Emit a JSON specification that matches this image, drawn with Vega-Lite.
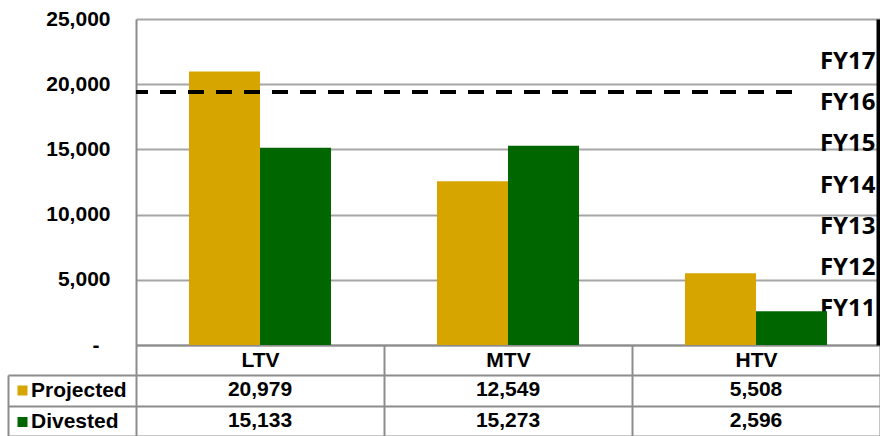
{
  "$schema": "https://vega.github.io/schema/vega-lite/v6.json",
  "padding": {"left": 7, "top": 8, "right": 0, "bottom": 0},
  "background": "white",
  "config": {"view": {"stroke": null}, "font": "Liberation Sans"},
  "datasets": {
    "table": [
      {"category": "LTV", "series": "Projected", "value": 20979},
      {"category": "LTV", "series": "Divested", "value": 15133},
      {"category": "MTV", "series": "Projected", "value": 12549},
      {"category": "MTV", "series": "Divested", "value": 15273},
      {"category": "HTV", "series": "Projected", "value": 5508},
      {"category": "HTV", "series": "Divested", "value": 2596}
    ]
  },
  "spacing": 30,
  "bounds": "flush",
  "vconcat": [
    {
      "width": 744,
      "height": 326,
      "layer": [
        {
          "data": {"name": "table"},
          "mark": {"type": "bar"},
          "encoding": {
            "x": {
              "field": "category", "type": "nominal", "sort": ["LTV", "MTV", "HTV"],
              "scale": {"paddingInner": 0, "paddingOuter": 0},
              "axis": {
                "title": null, "orient": "bottom", "tickBand": "extent", "tickSize": 30, "tickWidth": 2,
                "tickColor": "#8c8c8c", "domainColor": "#8c8c8c", "domainWidth": 2, "labelAngle": 0,
                "labelFontSize": 21, "labelFontWeight": "bold", "labelColor": "black",
                "labelPadding": -15, "labelBaseline": "middle", "grid": false
              }
            },
            "xOffset": {
              "field": "series", "type": "nominal", "sort": ["Projected", "Divested"],
              "scale": {"paddingOuter": 0.746, "paddingInner": 0}
            },
            "y": {
              "field": "value", "type": "quantitative",
              "scale": {"domain": [0, 25000], "nice": false},
              "axis": {
                "title": null, "values": [0, 5000, 10000, 15000, 20000, 25000],
                "labelExpr": "datum.value == 0 ? '-' : format(datum.value, ',')",
                "grid": true, "gridColor": "#a6a6a6", "gridWidth": 2,
                "ticks": false, "tickSize": 0, "domain": true, "domainColor": "#8c8c8c", "domainWidth": 2,
                "labelPadding": {"condition": {"test": "datum.value == 0", "value": 37}, "value": 26},
                "labelFontSize": 21, "labelFontWeight": "bold", "labelColor": "black"
              }
            },
            "color": {
              "field": "series", "type": "nominal",
              "scale": {"domain": ["Projected", "Divested"], "range": ["#D6A500", "#006600"]},
              "legend": {
                "title": null, "orient": "none", "legendX": -124, "legendY": 361, "direction": "vertical",
                "symbolType": "square", "symbolSize": 100, "symbolStrokeWidth": 0, "symbolOpacity": 1,
                "labelFontSize": 21, "labelFontWeight": "bold", "labelColor": "black",
                "labelOffset": -2, "rowPadding": 9.5, "padding": 0
              }
            }
          }
        },
        {
          "data": {"values": [{"target": 19400}]},
          "mark": {"type": "rule", "strokeDash": [16, 12], "strokeDashOffset": 4, "strokeWidth": 4, "color": "black"},
          "encoding": {
            "y": {"field": "target", "type": "quantitative", "scale": {"domain": [0, 25000], "nice": false}, "axis": null},
            "x": {"datum": 0, "type": "quantitative", "scale": {"domain": [0, 1]}, "axis": null},
            "x2": {"datum": 0.883}
          }
        },
        {
          "data": {"values": [{"fy": "FY17"}, {"fy": "FY16"}, {"fy": "FY15"}, {"fy": "FY14"}, {"fy": "FY13"}, {"fy": "FY12"}, {"fy": "FY11"}]},
          "mark": {"type": "tick", "opacity": 0},
          "encoding": {
            "y": {
              "field": "fy", "type": "ordinal", "sort": ["FY17", "FY16", "FY15", "FY14", "FY13", "FY12", "FY11"],
              "scale": {"type": "point", "padding": 0.96},
              "axis": {
                "orient": "right", "title": null, "ticks": false, "tickSize": 0, "domain": true,
                "domainColor": "black", "domainWidth": 4, "offset": -2, "labelAlign": "right",
                "labelPadding": -3, "labelOffset": 3, "labelFont": "Open Sans", "labelFontSize": 24, "labelFontWeight": "bold",
                "labelColor": "black", "grid": false
              }
            }
          }
        }
      ],
      "resolve": {"scale": {"x": "independent", "y": "independent"}, "axis": {"y": "independent"}}
    },
    {
      "width": 744,
      "height": 61,
      "data": {"name": "table"},
      "mark": {"type": "text", "fontSize": 21, "fontWeight": "bold", "color": "black"},
      "encoding": {
        "x": {
          "field": "category", "type": "nominal", "sort": ["LTV", "MTV", "HTV"],
          "scale": {"paddingInner": 0, "paddingOuter": 0},
          "axis": {"title": null, "labels": false, "ticks": false, "domain": false, "grid": true, "tickBand": "extent", "gridColor": "#8c8c8c", "gridWidth": 2}
        },
        "y": {
          "field": "series", "type": "nominal", "sort": ["Projected", "Divested"],
          "scale": {"paddingInner": 0, "paddingOuter": 0},
          "axis": {
            "title": null, "labels": false, "ticks": true, "tickSize": -128, "offset": 128, "tickBand": "extent",
            "tickColor": "#8c8c8c", "tickWidth": 2, "domain": true, "domainColor": "#8c8c8c", "domainWidth": 2,
            "grid": true, "gridColor": "#8c8c8c", "gridWidth": 2
          }
        },
        "text": {"field": "value", "type": "quantitative", "format": ","}
      }
    }
  ]
}
